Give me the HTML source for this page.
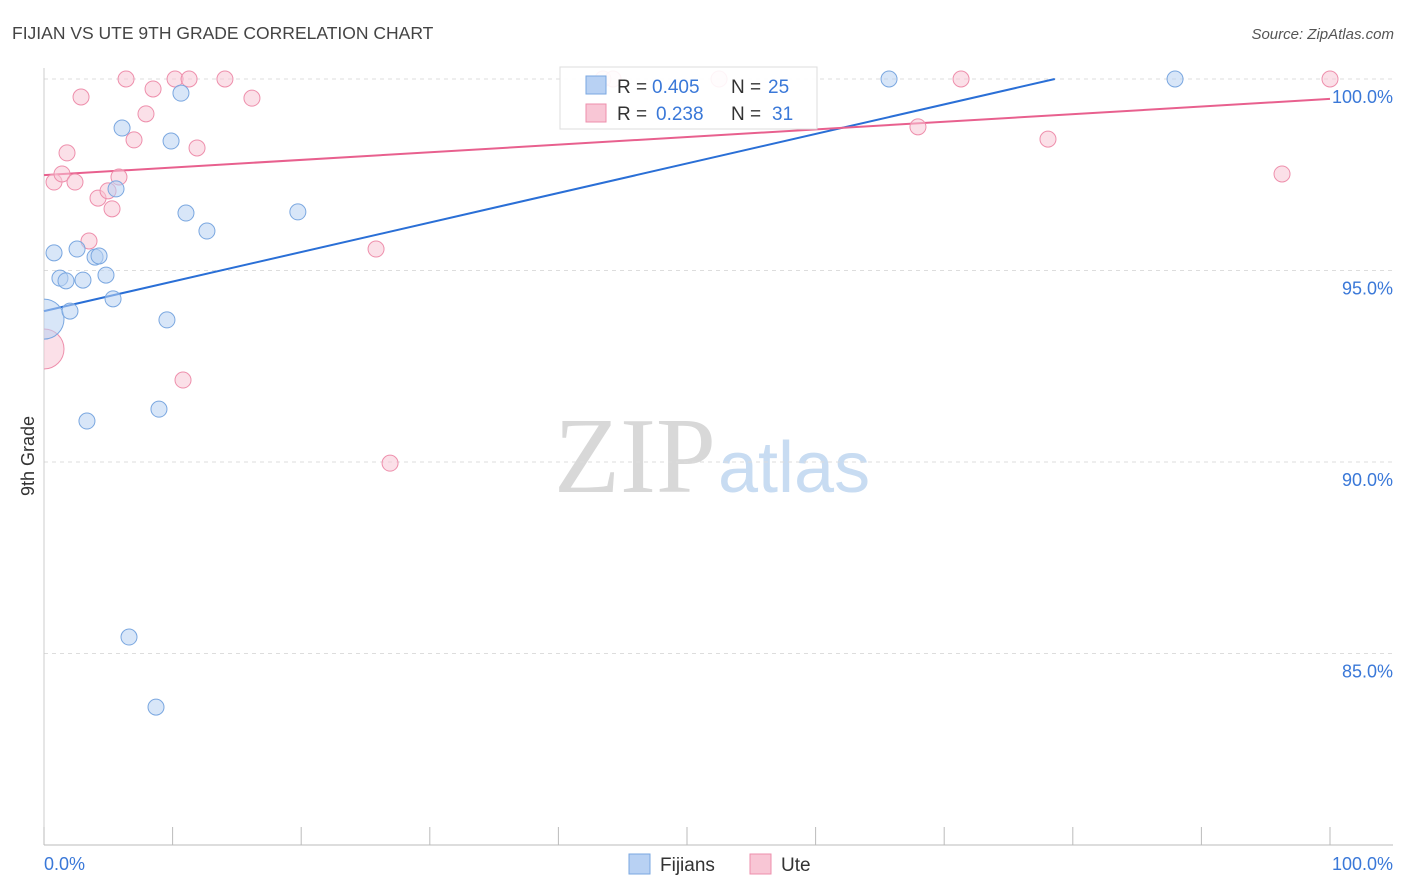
<!DOCTYPE html>
<html><head><meta charset="utf-8"><style>
body{margin:0;background:#fff;font-family:"Liberation Sans",sans-serif}
svg{display:block}
</style></head><body>
<svg id="chart" width="1406" height="892">
<defs><clipPath id="plotclip"><rect x="44" y="40" width="1362" height="805"/></clipPath></defs>
<text x="12" y="39" font-size="17.5" fill="#444">FIJIAN VS UTE 9TH GRADE CORRELATION CHART</text>
<text x="1394" y="39" font-size="15" fill="#555" font-style="italic" text-anchor="end">Source: ZipAtlas.com</text>
<text x="716" y="492" font-size="108" fill="#d8d8d8" text-anchor="end" font-family="Liberation Serif,serif">ZIP</text>
<text x="718" y="492" font-size="72" fill="#c8dcf2">atlas</text>
<text transform="translate(34,456) rotate(-90)" font-size="18" fill="#333" text-anchor="middle">9th Grade</text>
<g id="grid"></g><g id="axes"></g><g id="lines"></g><g id="pts" clip-path="url(#plotclip)"></g>
<g>
<rect x="560" y="67" width="257" height="62" fill="#fff" fill-opacity="0.9" stroke="#ddd"/>
<rect x="586" y="76" width="20" height="18" fill="#b8d1f3" stroke="#7aa7e0"/>
<rect x="586" y="104" width="20" height="18" fill="#f8c6d5" stroke="#ee8fac"/>
<text x="617" y="93" font-size="19" fill="#333">R =</text>
<text x="652" y="93" font-size="19" fill="#3a78d8">0.405</text>
<text x="731" y="93" font-size="19" fill="#333">N =</text>
<text x="768" y="93" font-size="19" fill="#3a78d8">25</text>
<text x="617" y="120" font-size="19" fill="#333">R =</text>
<text x="656" y="120" font-size="19" fill="#3a78d8">0.238</text>
<text x="731" y="120" font-size="19" fill="#333">N =</text>
<text x="772" y="120" font-size="19" fill="#3a78d8">31</text>
</g>
<g>
<rect x="629" y="854" width="21" height="20" fill="#b8d1f3" stroke="#7aa7e0"/>
<text x="660" y="871" font-size="19" fill="#333">Fijians</text>
<rect x="750" y="854" width="21" height="20" fill="#f8c6d5" stroke="#ee8fac"/>
<text x="781" y="871" font-size="19" fill="#333">Ute</text>
</g>
</svg>
<script>
const yTicks=[100,95,90,85];
const yTickLabels=["100.0%","95.0%","90.0%","85.0%"];
const xTicks=[0,10,20,30,40,50,60,70,80,90,100];
const fijX=[0,0.78,1.24,1.71,2.02,2.57,3.03,3.34,3.97,4.28,4.82,5.37,5.6,6.07,6.61,8.71,8.94,9.56,9.88,10.65,11.04,12.67,19.74,65.71,87.95];
const fijY=[93.73,95.46,94.8,94.73,93.94,95.56,94.75,91.07,95.35,95.38,94.88,94.26,97.13,98.72,85.43,83.6,91.38,93.71,98.38,99.63,96.5,96.03,96.53,100,100];
const uteX=[0,0.78,1.4,1.79,2.41,2.88,3.5,4.2,4.98,5.29,5.83,6.38,7,7.93,8.48,10.19,11.28,10.81,11.9,14.07,16.17,25.82,26.91,43.47,44.25,52.49,67.96,71.31,78.07,96.27,100];
const uteY=[92.95,97.31,97.52,98.07,97.31,99.53,95.77,96.89,97.08,96.61,97.44,100,98.41,99.09,99.74,100,100,92.14,98.2,100,99.5,95.56,89.97,100,100,100,98.75,100,98.43,97.52,100];
const fijLine=[0,93.94,78.6,100];
const uteLine=[0,97.49,100,99.48];
const X=v=>44+v*12.86, Y=v=>79+(100-v)*38.3;
const NS="http://www.w3.org/2000/svg";
function mk(t,a,p){const e=document.createElementNS(NS,t);for(const k in a)e.setAttribute(k,a[k]);p.appendChild(e);return e;}
const grid=document.getElementById('grid'),axes=document.getElementById('axes'),lines=document.getElementById('lines'),pts=document.getElementById('pts');
yTicks.forEach((t,i)=>{
 const l=mk('line',{x1:44,x2:1393,y1:Y(t),y2:Y(t),stroke:'#ddd','stroke-dasharray':'4,4'},grid);
 
 
 const tx=mk('text',{x:1393,y:Y(t)+24,'font-size':18,fill:'#3a78d8','text-anchor':'end'},axes);
 tx.textContent=yTickLabels[i];
 
 
});
const ax=mk('line',{x1:44,x2:1393,y1:845,y2:845,stroke:'#bbb'},axes);


const ay=mk('line',{x1:44,x2:44,y1:68,y2:845,stroke:'#ccc'},axes);


xTicks.forEach(t=>{
 const l=mk('line',{x1:X(t),x2:X(t),y1:827,y2:845,stroke:'#bbb'},axes);
 
 
});
[["0.0%",44,'start'],["100.0%",1393,'end']].forEach(a=>{
 const tx=mk('text',{x:a[1],y:870,'font-size':18,fill:'#3a78d8','text-anchor':a[2]},axes);
 tx.textContent=a[0];
 
 
});
function series(xs,ys,fill,stroke,name){
 xs.forEach((x,i)=>{
  const r=(x===0)?20:8;
  const c=mk('circle',{cx:X(x),cy:Y(ys[i]),r:r,fill:fill,'fill-opacity':0.55,stroke:stroke,'stroke-width':1},pts);
  
  
 });
}
series(uteX,uteY,'#f8c6d5','#ee8fac','ute-point');
series(fijX,fijY,'#b8d1f3','#7aa7e0','fijian-point');
const bl=mk('line',{x1:X(fijLine[0]),y1:Y(fijLine[1]),x2:X(fijLine[2]),y2:Y(fijLine[3]),stroke:'#2a6fd6','stroke-width':2},lines);


const pl=mk('line',{x1:X(uteLine[0]),y1:Y(uteLine[1]),x2:X(uteLine[2]),y2:Y(uteLine[3]),stroke:'#e8608e','stroke-width':2},lines);


</script>
</body></html>
